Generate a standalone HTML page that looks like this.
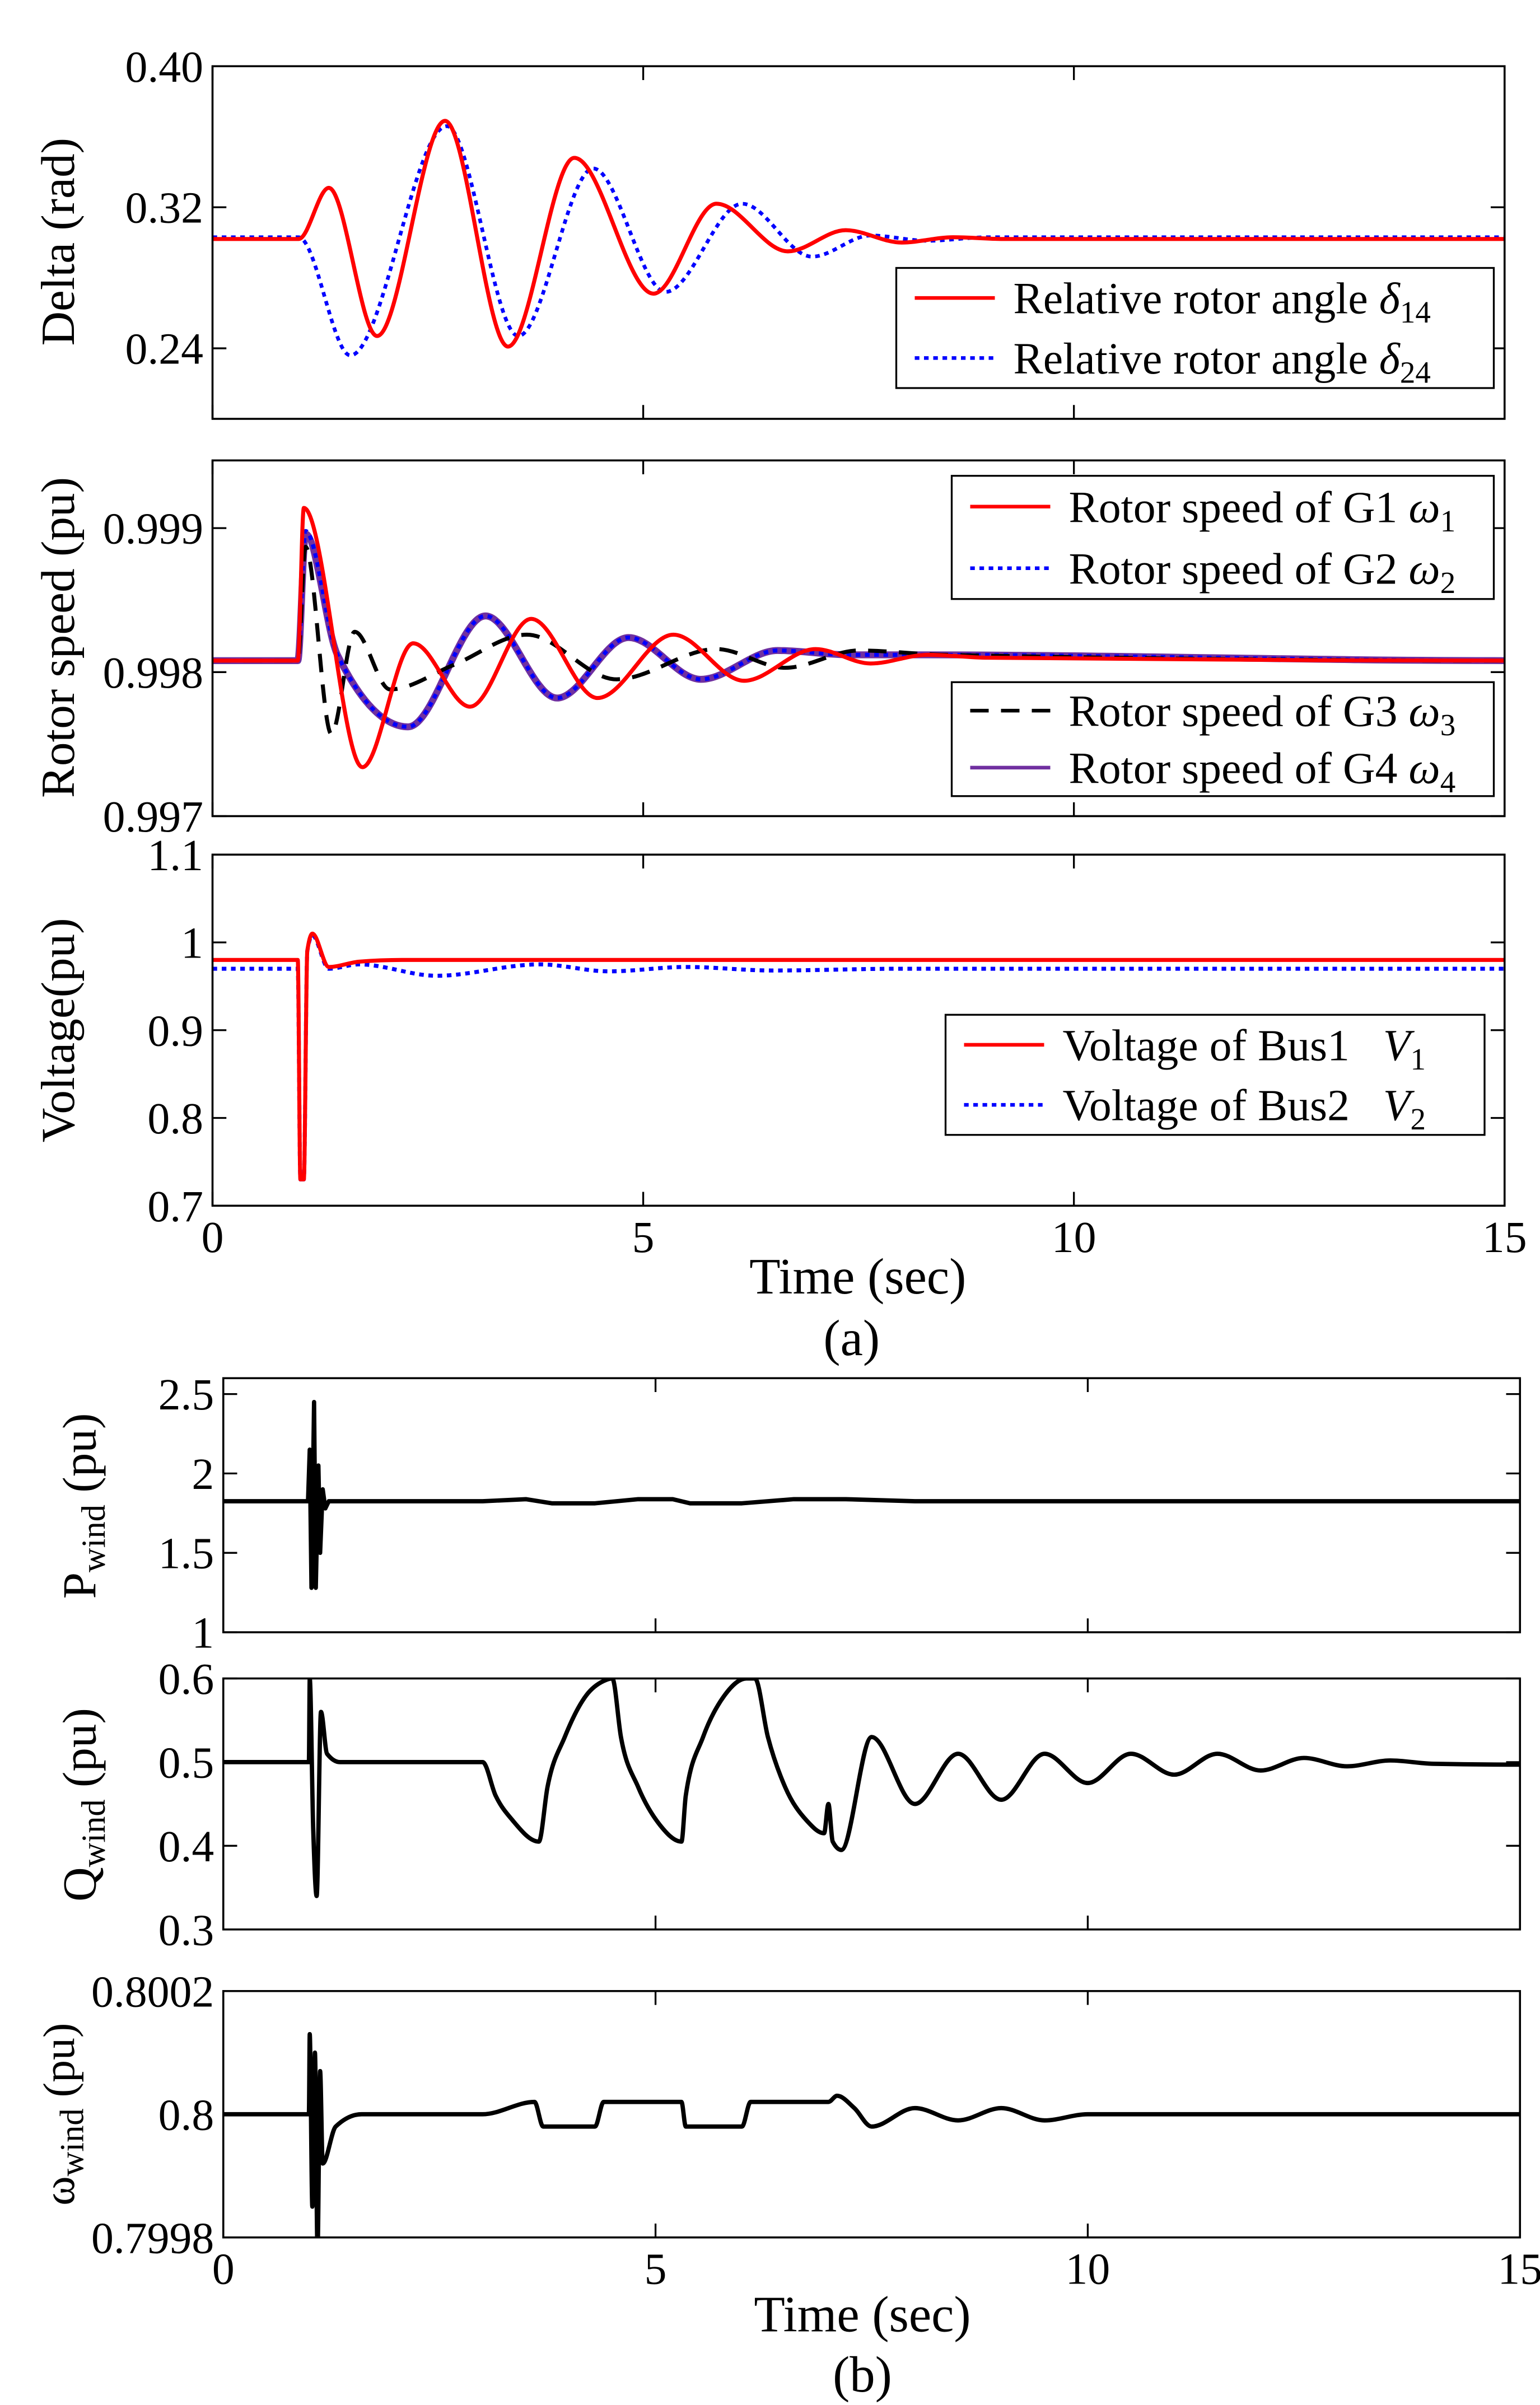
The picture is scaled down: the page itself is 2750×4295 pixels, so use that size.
<!DOCTYPE html>
<html><head><meta charset="utf-8">
<style>
html,body{margin:0;padding:0;background:#fff;}
svg text{font-family:"Liberation Serif","Times New Roman",serif;fill:#000;}
</style></head>
<body>
<svg id="fig" xmlns="http://www.w3.org/2000/svg" width="2750" height="4290" viewBox="0 0 1000 1560" font-family="Liberation Serif, serif"></svg>
<script>
// ---------- data (time, value) ----------
const d14T=[0,1.0,1.35,1.91,2.7,3.43,4.2,5.12,5.85,6.68,7.35,8.0,8.6,9.2,15];
const d14V=[0.302,0.302,0.331,0.247,0.369,0.241,0.348,0.271,0.322,0.295,0.307,0.300,0.303,0.302,0.302];
const d24T=[0,1.0,1.6,2.72,3.55,4.42,5.26,6.15,6.96,7.64,8.3,9.0,15];
const d24V=[0.303,0.303,0.236,0.366,0.247,0.342,0.272,0.322,0.292,0.304,0.301,0.303,0.303];
const w1T=[0,0.99,1.06,1.74,2.33,2.99,3.7,4.47,5.35,6.17,7.0,7.64,8.3,9.0,15];
const w1V=[0.99808,0.99808,0.99914,0.99734,0.99820,0.99776,0.99837,0.99782,0.99826,0.99794,0.99816,0.99806,0.99812,0.99810,0.99808];
const w2T=[0,0.99,1.08,1.45,2.27,3.17,4.0,4.83,5.67,6.56,7.4,8.2,15];
const w2V=[0.99808,0.99808,0.99898,0.99812,0.99762,0.99839,0.99782,0.99824,0.99795,0.99815,0.99812,0.99812,0.99808];
const w3T=[0,0.99,1.08,1.38,1.65,2.06,2.8,3.65,4.69,5.85,6.65,7.5,8.5,15];
const w3V=[0.99808,0.99808,0.99887,0.99757,0.99828,0.99788,0.99805,0.99826,0.99795,0.99816,0.99803,0.99815,0.99812,0.99808];
const w4T=w2T;
const w4V=[0.99808,0.99808,0.99896,0.99812,0.99762,0.99839,0.99782,0.99824,0.99795,0.99815,0.99812,0.99812,0.99808];
const v1T=[0,0.99,1.02,1.06,1.1,1.16,1.35,1.7,2.2,15];
const v1V=[0.980,0.980,0.73,0.73,0.99,1.010,0.972,0.978,0.980,0.980];
const v2T=[0,0.99,1.02,1.06,1.1,1.16,1.35,1.7,2.6,3.8,4.6,5.5,6.5,8,15];
const v2V=[0.970,0.970,0.73,0.73,0.99,1.008,0.970,0.975,0.962,0.975,0.967,0.972,0.968,0.970,0.970];
const pT=[0,0.98,1.0,1.02,1.05,1.07,1.1,1.12,1.15,1.18,1.22,1.3,3.0,3.5,3.8,4.3,4.8,5.2,5.4,6.0,6.6,7.2,8,15];
const pV=[1.825,1.825,2.15,1.28,2.45,1.28,2.05,1.5,1.9,1.78,1.825,1.825,1.825,1.838,1.812,1.812,1.838,1.838,1.812,1.812,1.838,1.838,1.825,1.825];
const qT=[0,0.99,1.0,1.04,1.08,1.13,1.2,1.35,3.0,3.15,3.35,3.65,3.75,3.95,4.2,4.4,4.5,4.6,4.8,5.05,5.3,5.35,5.55,5.8,6.05,6.15,6.3,6.5,6.75,6.95,7.0,7.05,7.15,7.5,8.0,8.5,9.0,9.5,10,10.5,11,11.5,12,12.5,13,13.5,14,15];
const qV=[0.5,0.5,0.6,0.42,0.34,0.56,0.51,0.5,0.5,0.46,0.43,0.405,0.47,0.53,0.58,0.597,0.6,0.53,0.47,0.425,0.405,0.46,0.53,0.58,0.6,0.6,0.53,0.47,0.43,0.415,0.45,0.405,0.395,0.53,0.45,0.51,0.455,0.51,0.475,0.51,0.485,0.51,0.49,0.505,0.495,0.502,0.498,0.497];
const wwT=[0,0.99,1.0,1.03,1.06,1.09,1.12,1.15,1.3,1.6,3.0,3.6,3.7,4.3,4.4,5.3,5.35,6.0,6.1,7.0,7.1,7.3,7.5,8.0,8.5,9.0,9.5,10,11,15];
const wwV=[0.8,0.8,0.80013,0.79985,0.80010,0.79978,0.80007,0.79992,0.79998,0.8,0.8,0.80002,0.79998,0.79998,0.80002,0.80002,0.79998,0.79998,0.80002,0.80002,0.80003,0.80001,0.79998,0.80001,0.79999,0.80001,0.79999,0.8,0.8,0.8];
const xTicks=[0,5,10,15];
const deltaTicks=[0.24,0.32,0.40];
const speedTicks=[0.997,0.998,0.999];
const voltTicks=[0.7,0.8,0.9,1,1.1];
const pTicks=[1,1.5,2,2.5];
const qTicks=[0.3,0.4,0.5,0.6];
const wwTicks=[0.7998,0.8,0.8002];

const NS="http://www.w3.org/2000/svg";
const svg=document.getElementById('fig');
const FF='Liberation Serif, serif';
function el(tag,attrs,parent){const e=document.createElementNS(NS,tag);for(const k in attrs)e.setAttribute(k,attrs[k]);if(tag==='text')e.setAttribute('font-family',FF);(parent||svg).appendChild(e);return e;}
function axes(x0,x1,y0,y1,ymin,ymax){return {x0,x1,y0,y1,sx:t=>x0+(t-0)/15*(x1-x0),sy:v=>y1-(v-ymin)/(ymax-ymin)*(y1-y0)};}
function monoPath(ax,T,V,lin){
  const X=T.map(ax.sx),Y=V.map(ax.sy),n=X.length;
  if(lin){return 'M'+X.map((x,i)=>x.toFixed(2)+','+Y[i].toFixed(2)).join('L');}
  const s=[],m=[];
  for(let i=0;i<n-1;i++)s.push((Y[i+1]-Y[i])/Math.max(1e-6,X[i+1]-X[i]));
  for(let i=0;i<n;i++){
    if(i==0)m.push(0);else if(i==n-1)m.push(0);
    else{const h0=X[i]-X[i-1],h1=X[i+1]-X[i],s0=s[i-1],s1=s[i];const p=(s0*h1+s1*h0)/(h0+h1);
      m.push((Math.sign(s0)+Math.sign(s1))*Math.min(Math.abs(s0),Math.abs(s1),0.5*Math.abs(p)));}
  }
  let d='M'+X[0].toFixed(2)+','+Y[0].toFixed(2);
  for(let i=0;i<n-1;i++){const h=X[i+1]-X[i];
    d+='C'+(X[i]+h/3).toFixed(2)+','+(Y[i]+m[i]*h/3).toFixed(2)+' '+(X[i+1]-h/3).toFixed(2)+','+(Y[i+1]-m[i+1]*h/3).toFixed(2)+' '+X[i+1].toFixed(2)+','+Y[i+1].toFixed(2);}
  return d;
}
function frame(ax,name,ticks,fmt,ylab,showX){
  const g=el('g',{});
  
  
  const clip=el('clipPath',{id:'c'+name},g);el('rect',{x:ax.x0,y:ax.y0,width:ax.x1-ax.x0,height:ax.y1-ax.y0},clip);
  ticks.forEach(v=>{const y=ax.sy(v);
    el('line',{x1:ax.x0,x2:ax.x0+9,y1:y,y2:y,stroke:'#000','stroke-width':1.2},g);
    el('line',{x1:ax.x1,x2:ax.x1-9,y1:y,y2:y,stroke:'#000','stroke-width':1.2},g);
    const t=el('text',{x:ax.x0-6,y:y+10,'text-anchor':'end','font-size':29},g);t.textContent=fmt(v);
    
    
  });
  xTicks.forEach(v=>{const x=ax.sx(v);
    el('line',{x1:x,x2:x,y1:ax.y1,y2:ax.y1-9,stroke:'#000','stroke-width':1.2},g);
    el('line',{x1:x,x2:x,y1:ax.y0,y2:ax.y0+9,stroke:'#000','stroke-width':1.2},g);
    if(showX){const t=el('text',{x:x,y:ax.y1+30,'text-anchor':'middle','font-size':29},g);t.textContent=v;
      
      }
  });
  return g;
}
function series(ax,name,T,V,color,w,dash,lin){
  const p=el('path',{d:monoPath(ax,T,V,lin),fill:'none',stroke:color,'stroke-width':w,'clip-path':'url(#c'+name+')','stroke-linejoin':'round'});
  if(dash)p.setAttribute('stroke-dasharray',dash);
  return p;
}
function box(ax){el('rect',{x:ax.x0,y:ax.y0,width:ax.x1-ax.x0,height:ax.y1-ax.y0,fill:'none',stroke:'#000','stroke-width':1.3});}
function vlabel(x,y,txt,size){const t=el('text',{x:x,y:y,'text-anchor':'middle','font-size':size||31,transform:'rotate(-90 '+x+' '+y+')'});t.innerHTML=txt;return t;}
function legend(x,y,w,h,items){
  const g=el('g',{});
  
  
  el('rect',{x:x,y:y,width:w,height:h,fill:'#fff',stroke:'#000','stroke-width':1.2},g);
  items.forEach((it,i)=>{const yy=y+h*(i+0.5)/items.length;
    const l=el('line',{x1:x+12,x2:x+64,y1:yy,y2:yy,stroke:it.c,'stroke-width':it.w||2},g);if(it.d)l.setAttribute('stroke-dasharray',it.d);
    const t=el('text',{x:x+76,y:yy+10,'font-size':29},g);t.innerHTML=it.t;
    
    
  });
}
const f2=v=>v.toFixed(2), f3=v=>v.toFixed(3), f1=v=>(v==1?'1':v.toFixed(1)), fq=v=>String(v), f4=v=>(v==0.8?'0.8':v.toFixed(4));

// Panel a1
const A1=axes(138,977,43,272,0.2,0.4);
frame(A1,'delta-panel',deltaTicks,f2,'',false);
series(A1,'delta-panel',d24T,d24V,'#0000ff',2.4,'3,3');
series(A1,'delta-panel',d14T,d14V,'#ff0000',2.6);
box(A1);
legend(582,174,388,78,[{t:'Relative rotor angle <tspan font-style="italic">δ</tspan><tspan font-size="20" dy="6">14</tspan>',c:'#f00',w:2.4},{t:'Relative rotor angle <tspan font-style="italic">δ</tspan><tspan font-size="20" dy="6">24</tspan>',c:'#00f',d:'3,3',w:2.4}]);
vlabel(48,157,'Delta (rad)');

// Panel a2
const A2=axes(138,977,299,530,0.997,0.99947);
frame(A2,'speed-panel',speedTicks,f3,'',false);
series(A2,'speed-panel',w4T,w4V,'#7030a0',4.5);
series(A2,'speed-panel',w2T,w2V,'#0000ff',2.6,'3,3');
series(A2,'speed-panel',w3T,w3V,'#000',2.6,'12,8');
series(A2,'speed-panel',w1T,w1V,'#ff0000',2.6);
box(A2);
legend(618,309,352,80,[{t:'Rotor speed of G1 <tspan font-style="italic">ω</tspan><tspan font-size="20" dy="6">1</tspan>',c:'#f00',w:2.4},{t:'Rotor speed of G2 <tspan font-style="italic">ω</tspan><tspan font-size="20" dy="6">2</tspan>',c:'#00f',d:'3,3',w:2.4}]);
legend(618,443,352,74,[{t:'Rotor speed of G3 <tspan font-style="italic">ω</tspan><tspan font-size="20" dy="6">3</tspan>',c:'#000',d:'12,8',w:2.4},{t:'Rotor speed of G4 <tspan font-style="italic">ω</tspan><tspan font-size="20" dy="6">4</tspan>',c:'#7030a0',w:2.4}]);
vlabel(48,414,'Rotor speed (pu)');

// Panel a3
const A3=axes(138,977,555,783,0.7,1.1);
frame(A3,'voltage-panel',voltTicks,f1,'',true);
series(A3,'voltage-panel',v2T,v2V,'#0000ff',2.6,'3,3',false);
series(A3,'voltage-panel',v1T,v1V,'#ff0000',2.6,null,false);
box(A3);
legend(614,659,350,78,[{t:'Voltage of Bus1 &#160;&#160;<tspan font-style="italic">V</tspan><tspan font-size="20" dy="6">1</tspan>',c:'#f00',w:2.4},{t:'Voltage of Bus2 &#160;&#160;<tspan font-style="italic">V</tspan><tspan font-size="20" dy="6">2</tspan>',c:'#00f',d:'3,3',w:2.4}]);
vlabel(48,669,'Voltage(pu)');
let t=el('text',{x:557,y:840,'text-anchor':'middle','font-size':33});t.textContent='Time (sec)';
t=el('text',{x:553,y:880,'text-anchor':'middle','font-size':33});t.textContent='(a)';

// Panel b1
const B1=axes(145,987,895,1060,1,2.6);
frame(B1,'pwind-panel',pTicks,fq,'',false);
series(B1,'pwind-panel',pT,pV,'#000',2.8,null,true);
box(B1);
vlabel(62,978,'P<tspan font-size="22" dy="6">wind</tspan><tspan dy="-6"> (pu)</tspan>');

// Panel b2
const B2=axes(145,987,1090,1253,0.3,0.6);
frame(B2,'qwind-panel',qTicks,f1,'',false);
series(B2,'qwind-panel',qT,qV,'#000',2.8,null,false);
box(B2);
vlabel(62,1172,'Q<tspan font-size="22" dy="6">wind</tspan><tspan dy="-6"> (pu)</tspan>');

// Panel b3
const B3=axes(145,987,1293,1453,0.7998,0.8002);
frame(B3,'wwind-panel',wwTicks,f4,'',true);
series(B3,'wwind-panel',wwT,wwV,'#000',2.8,null,false);
box(B3);
vlabel(48,1373,'ω<tspan font-size="22" dy="6">wind</tspan><tspan dy="-6"> (pu)</tspan>',29);
t=el('text',{x:560,y:1514,'text-anchor':'middle','font-size':33});t.textContent='Time (sec)';
t=el('text',{x:560,y:1553,'text-anchor':'middle','font-size':33});t.textContent='(b)';
</script>
</body></html>
